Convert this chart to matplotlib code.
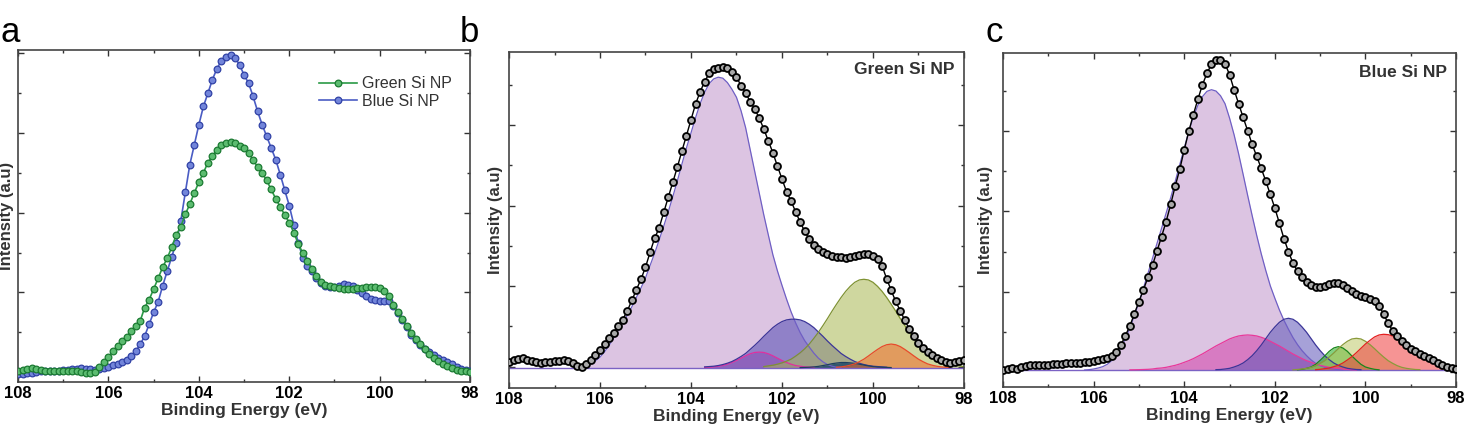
import numpy as np
import matplotlib
matplotlib.use("Agg")
import matplotlib.pyplot as plt
from matplotlib.ticker import FixedLocator, MultipleLocator

plt.rcParams['font.family'] = ['Liberation Sans', 'DejaVu Sans']

# ─── data (intensity in % of axis height) ───
energy = np.round(np.linspace(108.0, 98.0, 101), 1)

green_np = [3.3, 3.6, 4.0, 4.1, 3.9, 3.6, 3.4, 3.3, 3.3, 3.3,
            3.3, 3.3, 3.4, 3.4, 3.0, 2.7, 2.6, 3.0, 4.4, 5.9,
            7.5, 9.4, 10.8, 12.3, 13.6, 15.4, 16.9, 18.3, 22.4, 24.8,
            28.0, 31.3, 34.6, 37.3, 40.6, 44.3, 46.8, 50.5, 53.6, 57.0,
            60.2, 63.0, 66.1, 68.1, 69.9, 71.3, 72.0, 72.2, 71.9, 71.2,
            70.4, 69.1, 66.8, 64.8, 63.0, 60.7, 58.0, 55.2, 52.8, 50.3,
            48.0, 45.0, 41.6, 38.8, 36.4, 34.0, 32.0, 30.2, 29.2, 28.8,
            28.6, 28.3, 28.1, 28.1, 28.1, 28.2, 28.4, 28.5, 28.6, 28.5,
            28.2, 27.4, 25.8, 23.2, 21.1, 18.9, 16.9, 14.9, 13.1, 11.3,
            9.8, 8.4, 7.1, 6.2, 5.4, 4.7, 4.2, 3.7, 3.4, 3.2, 3.1]

blue_np = [2.5, 2.5, 2.6, 2.8, 3.0, 3.2, 3.3, 3.3, 3.4, 3.4,
           3.5, 3.6, 3.8, 4.0, 4.1, 4.0, 3.8, 3.7, 4.0, 4.3,
           4.6, 5.0, 5.5, 5.9, 6.5, 7.8, 9.2, 11.3, 13.8, 17.4,
           21.0, 24.2, 29.0, 33.4, 37.7, 42.0, 48.5, 57.1, 65.5, 71.5,
           77.5, 83.0, 87.0, 91.1, 94.4, 96.8, 98.0, 98.5, 97.7, 95.5,
           92.5, 90.0, 86.0, 81.5, 77.5, 74.0, 70.5, 67.0, 62.5, 57.8,
           53.1, 47.4, 41.8, 37.5, 35.0, 33.3, 31.2, 29.8, 28.8, 28.5,
           28.6, 29.0, 29.4, 29.3, 28.8, 27.8, 26.8, 25.8, 25.0, 24.7,
           24.5, 24.5, 24.3, 22.8, 20.7, 18.6, 16.5, 14.3, 12.6, 11.0,
           9.9, 9.0, 8.1, 7.3, 6.7, 6.1, 5.3, 4.6, 4.0, 3.6, 3.3]

# panel b: Green Si NP fit
green_raw = [7.8, 8.2, 8.6, 8.7, 8.4, 8.0, 7.7, 7.5, 7.6, 7.8,
             8.0, 8.1, 8.2, 7.9, 7.3, 6.6, 6.3, 7.0, 8.2, 9.6,
             11.2, 12.9, 14.7, 16.4, 18.3, 20.3, 22.9, 26.0, 29.2, 32.3,
             35.9, 40.3, 44.5, 47.6, 52.2, 56.7, 61.2, 65.7, 70.5, 75.1,
             79.8, 84.5, 88.1, 91.2, 93.6, 94.8, 95.3, 95.5, 95.1, 94.0,
             92.5, 90.0, 87.9, 85.2, 83.1, 80.3, 77.1, 73.5, 70.0, 66.0,
             62.2, 58.4, 55.6, 52.4, 49.3, 46.6, 44.2, 42.6, 41.3, 40.3,
             39.7, 39.2, 39.0, 38.8, 38.6, 38.8, 39.2, 39.6, 39.8, 39.7,
             39.3, 38.2, 36.3, 32.5, 29.0, 25.7, 22.9, 20.1, 17.4, 15.3,
             13.4, 11.8, 10.7, 9.7, 8.9, 8.2, 7.8, 7.5, 7.6, 7.9, 8.3]
green_base = 6.0

g_main_x = np.round(np.linspace(106.5, 100.7, 59), 1)
g_main = [6.0, 6.2, 6.6, 7.2, 8.0, 9.1, 10.7, 12.6, 14.8, 17.1,
          19.4, 21.6, 24.1, 26.9, 29.7, 32.7, 36.4, 40.0, 44.0, 48.1,
          52.4, 56.9, 61.6, 66.6, 71.4, 75.9, 80.4, 84.6, 88.0, 90.6,
          92.0, 92.5, 92.2, 90.9, 88.9, 86.5, 82.5, 77.5, 71.0, 64.5,
          58.0, 51.5, 45.5, 39.6, 34.8, 30.5, 26.4, 22.6, 19.3, 16.4,
          14.0, 12.1, 10.3, 8.8, 7.7, 6.9, 6.4, 6.1, 6.0]

g_blue_x = np.round(np.linspace(103.7, 99.7, 41), 1)
g_blue = [6.2, 6.3, 6.4, 6.6, 6.9, 7.3, 7.8, 8.5, 9.3, 10.2,
          11.4, 12.6, 13.9, 15.3, 16.6, 17.9, 18.9, 19.7, 20.2, 20.4,
          20.4, 20.2, 19.7, 18.9, 17.9, 16.6, 15.3, 13.9, 12.6, 11.4,
          10.2, 9.3, 8.5, 7.8, 7.3, 6.9, 6.6, 6.4, 6.3, 6.2, 6.1]

g_mag_x = np.round(np.linspace(103.7, 101.3, 25), 1)
g_mag = [6.05, 6.1, 6.2, 6.4, 6.6, 7.0, 7.5, 8.1, 8.8, 9.5,
         10.1, 10.5, 10.6, 10.5, 10.1, 9.5, 8.8, 8.1, 7.5, 7.0,
         6.6, 6.4, 6.2, 6.1, 6.05]

g_olive_x = np.round(np.linspace(102.4, 98.0, 45), 1)
g_olive = [6.3, 6.5, 6.7, 7.0, 7.4, 7.9, 8.5, 9.4, 10.4, 11.6,
           13.0, 14.7, 16.5, 18.5, 20.6, 22.8, 24.9, 26.9, 28.7, 30.2,
           31.4, 32.1, 32.3, 32.1, 31.4, 30.2, 28.7, 26.9, 24.9, 22.8,
           20.6, 18.5, 16.5, 14.7, 13.0, 11.6, 10.4, 9.4, 8.5, 7.9,
           7.4, 7.0, 6.7, 6.5, 6.3]

g_orange_x = np.round(np.linspace(100.8, 98.3, 26), 1)
g_orange = [6.1, 6.2, 6.4, 6.7, 7.1, 7.75, 8.5, 9.45, 10.45, 11.4,
            12.25, 12.8, 13.0, 12.8, 12.25, 11.4, 10.45, 9.45, 8.5, 7.75,
            7.1, 6.7, 6.4, 6.2, 6.1, 6.05]

g_teal_x = np.round(np.linspace(101.6, 99.6, 21), 1)
g_teal = [6.0, 6.05, 6.1, 6.2, 6.35, 6.6, 6.85, 7.15, 7.35, 7.5,
          7.5, 7.4, 7.25, 7.0, 6.75, 6.5, 6.3, 6.15, 6.1, 6.05, 6.0]

# panel c: Blue Si NP fit
blue_raw = [5.0, 5.3, 5.5, 5.4, 5.8, 6.1, 6.4, 6.5, 6.5, 6.5,
            6.6, 6.7, 6.8, 6.9, 7.0, 7.1, 7.1, 7.2, 7.3, 7.5,
            7.6, 7.9, 8.2, 8.6, 9.3, 10.5, 12.4, 15.3, 18.2, 21.9,
            25.5, 29.1, 32.8, 36.4, 40.7, 45.0, 49.5, 54.6, 60.1, 65.1,
            71.0, 76.5, 81.5, 86.1, 90.4, 93.9, 96.6, 97.9, 98.0, 96.8,
            93.5, 89.0, 84.8, 80.7, 76.7, 72.6, 69.0, 65.4, 61.6, 57.6,
            53.5, 49.0, 44.4, 40.5, 37.0, 34.6, 32.8, 31.5, 30.6, 30.0,
            29.9, 30.2, 30.8, 31.2, 31.1, 30.5, 29.7, 28.8, 27.8, 27.1,
            26.8, 26.4, 25.7, 24.2, 21.8, 19.0, 16.8, 15.1, 13.6, 12.4,
            11.3, 10.6, 9.9, 9.2, 8.5, 7.9, 7.2, 6.6, 6.0, 5.6, 5.3]
blue_base = 5.0

b_main_x = np.round(np.linspace(106.2, 100.5, 58), 1)
b_main = [5.0, 5.1, 5.3, 5.6, 6.0, 6.7, 7.8, 9.4, 11.6, 14.3,
          17.6, 21.3, 25.3, 29.6, 34.0, 38.5, 43.0, 47.5, 52.0, 56.6,
          61.5, 66.5, 71.5, 76.5, 80.8, 84.3, 86.9, 88.5, 89.0, 88.6,
          87.2, 84.8, 80.5, 75.5, 69.8, 63.6, 57.3, 51.2, 45.3, 39.8,
          34.8, 30.2, 26.5, 23.0, 19.9, 17.2, 14.7, 12.6, 10.8, 9.3,
          8.0, 7.0, 6.3, 5.8, 5.5, 5.3, 5.1, 5.0]

b_pink_x = np.round(np.linspace(105.2, 100.2, 51), 1)
b_pink = [5.05, 5.07, 5.1, 5.15, 5.2, 5.3, 5.5, 5.6, 5.8, 6.1,
          6.4, 6.8, 7.3, 7.8, 8.4, 9.1, 9.8, 10.6, 11.4, 12.2,
          12.9, 13.6, 14.3, 14.8, 15.2, 15.4, 15.5, 15.4, 15.2, 14.8,
          14.3, 13.6, 12.9, 12.2, 11.4, 10.6, 9.8, 9.1, 8.4, 7.8,
          7.3, 6.8, 6.4, 6.1, 5.8, 5.6, 5.5, 5.3, 5.2, 5.1, 5.05]

b_blue_x = np.round(np.linspace(103.3, 100.1, 33), 1)
b_blue = [5.1, 5.15, 5.3, 5.5, 5.9, 6.4, 7.1, 8.1, 9.3, 10.8,
          12.5, 14.4, 16.3, 17.9, 19.3, 20.2, 20.5, 20.2, 19.3, 17.9,
          16.3, 14.4, 12.5, 10.8, 9.3, 8.1, 7.1, 6.4, 5.9, 5.5,
          5.3, 5.15, 5.1]

b_green_x = np.round(np.linspace(101.5, 99.7, 19), 1)
b_green = [5.05, 5.2, 5.5, 5.9, 6.7, 7.9, 9.2, 10.6, 11.6, 12.0,
           11.6, 10.6, 9.2, 7.9, 6.7, 5.9, 5.5, 5.2, 5.05]

b_olive_x = np.round(np.linspace(101.6, 98.8, 29), 1)
b_olive = [5.05, 5.15, 5.3, 5.5, 5.8, 6.3, 7.0, 7.8, 8.9, 10.1,
           11.4, 12.6, 13.6, 14.3, 14.5, 14.3, 13.6, 12.6, 11.4, 10.1,
           8.9, 7.8, 7.0, 6.3, 5.8, 5.5, 5.3, 5.15, 5.1]

b_red_x = np.round(np.linspace(101.1, 98.0, 32), 1)
b_red = [5.1, 5.2, 5.4, 5.6, 6.0, 6.4, 7.1, 8.0, 9.0, 10.2,
         11.5, 12.8, 13.9, 14.9, 15.5, 15.7, 15.6, 15.2, 14.5, 13.7,
         12.7, 11.7, 10.7, 9.7, 8.7, 7.9, 7.2, 6.6, 6.2, 5.8, 5.6, 5.4]

x_ticks = [108, 106, 104, 102, 100, 98]


def style_axes(ax, ytick0):
    ax.set_xlim(108, 98)
    ax.set_ylim(0, 100)
    ax.xaxis.set_major_locator(FixedLocator(x_ticks))
    ax.xaxis.set_minor_locator(MultipleLocator(1))
    ax.yaxis.set_major_locator(FixedLocator(np.arange(ytick0, 100, 24)))
    ax.yaxis.set_minor_locator(FixedLocator(np.arange(ytick0 + 12, 100, 24)))
    ax.tick_params(which="both", direction="in", top=True, right=True,
                   labelleft=False, width=1.0, color="#333333")
    ax.tick_params(which="major", length=4)
    ax.tick_params(which="minor", length=2.5)
    for lab in ax.get_xticklabels():
        lab.set_fontweight("bold")
        lab.set_fontsize(12)
    ax.tick_params(axis="x", pad=3)
    for sp in ax.spines.values():
        sp.set_linewidth(1.2)
        sp.set_color("#444444")
    ax.set_xlabel("Binding Energy (eV)", fontsize=12.5, fontweight="bold",
                  labelpad=1.5, color="#333333")
    ax.set_ylabel("Intensity (a.u)", fontsize=12, fontweight="bold",
                  color="#333333")


def component(ax, x, y, base, face, edge, alpha):
    ax.fill_between(x, base, y, color=face, alpha=alpha, lw=0)
    ax.plot(x, y, color=edge, lw=0.9)


fig = plt.figure(figsize=(14.69, 4.26), dpi=100)
ax_a = fig.add_axes([0.0123, 0.1033, 0.3077, 0.7793])
ax_b = fig.add_axes([0.3465, 0.0899, 0.3097, 0.7880])
ax_c = fig.add_axes([0.6828, 0.0923, 0.3084, 0.7833])

# ─── panel a ───
ax_a.plot(energy, blue_np, color="#4a5cc4", lw=1.2, marker="o", ms=4.8,
          mfc="#7285da", mec="#3142a6", mew=0.9, label="Blue Si NP", zorder=3)
ax_a.plot(energy, green_np, color="#2a9a45", lw=1.2, marker="o", ms=4.8,
          mfc="#5cbc70", mec="#1b7a32", mew=0.9, label="Green Si NP", zorder=4)
h, l = ax_a.get_legend_handles_labels()
ax_a.legend(h[::-1], l[::-1], loc="upper right", bbox_to_anchor=(0.985, 0.955),
            frameon=False, fontsize=11.5, handlelength=2.4, handletextpad=0.3,
            labelspacing=0.15, borderaxespad=0.3, labelcolor="#333333")
style_axes(ax_a, 3)
ax_a.yaxis.set_label_coords(-0.009, 0.5)

# ─── panel b ───
ax_b.plot([108, 98], [green_base, green_base], color="#7b62c4", lw=1.0)
component(ax_b, g_main_x, g_main, green_base, "#dcc4e2", "#6f5fc4", 1.0)
component(ax_b, g_mag_x, g_mag, green_base, "#d63aaa", "#e02f9f", 0.55)
component(ax_b, g_blue_x, g_blue, green_base, "#5e55b8", "#3b3598", 0.6)
component(ax_b, g_olive_x, g_olive, green_base, "#a9b650", "#7f9232", 0.55)
component(ax_b, g_teal_x, g_teal, green_base, "#1e4a6a", "#1e3f5f", 0.85)
component(ax_b, g_orange_x, g_orange, green_base, "#f06a2a", "#e84a2a", 0.55)
ax_b.plot(energy, green_raw, color="black", lw=1.0, marker="o", ms=5.0,
          mfc="#a8a8a8", mec="black", mew=1.3, zorder=5)
ax_b.text(0.98, 0.97, "Green Si NP", transform=ax_b.transAxes, ha="right",
          va="top", fontsize=12.5, fontweight="bold", color="#333333")
style_axes(ax_b, 6.25)
ax_b.yaxis.set_label_coords(-0.013, 0.5)

# ─── panel c ───
ax_c.plot([108, 98], [blue_base, blue_base], color="#7b62c4", lw=1.0)
component(ax_c, b_main_x, b_main, blue_base, "#dcc4e2", "#6f5fc4", 1.0)
component(ax_c, b_pink_x, b_pink, blue_base, "#d440a8", "#e8389a", 0.55)
component(ax_c, b_blue_x, b_blue, blue_base, "#5e55b8", "#3b3598", 0.55)
component(ax_c, b_green_x, b_green, blue_base, "#2fb52f", "#1a861a", 0.6)
component(ax_c, b_olive_x, b_olive, blue_base, "#b8c45a", "#8a9a3a", 0.5)
component(ax_c, b_red_x, b_red, blue_base, "#f03c3c", "#e42020", 0.55)
ax_c.plot(energy, blue_raw, color="black", lw=1.0, marker="o", ms=5.0,
          mfc="#a8a8a8", mec="black", mew=1.3, zorder=5)
ax_c.text(0.98, 0.965, "Blue Si NP", transform=ax_c.transAxes, ha="right",
          va="top", fontsize=12.5, fontweight="bold", color="#333333")
style_axes(ax_c, 4.5)
ax_c.yaxis.set_label_coords(-0.022, 0.5)

# panel letters
fig.text(0.0, 0.885, "a", fontsize=25, ha="left", va="bottom")
fig.text(0.313, 0.885, "b", fontsize=25, ha="left", va="bottom")
fig.text(0.671, 0.885, "c", fontsize=25, ha="left", va="bottom")

fig.savefig("out.png", dpi=100)
